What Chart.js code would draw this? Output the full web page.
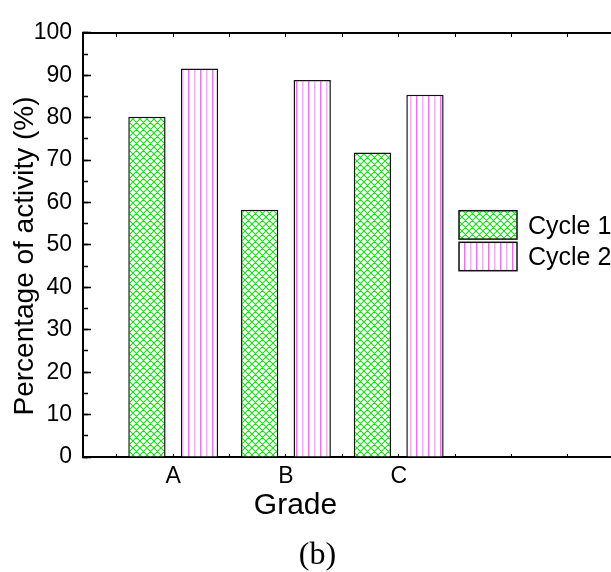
<!DOCTYPE html>
<html>
<head>
<meta charset="utf-8">
<title>Percentage of activity</title>
<script src="https://cdn.jsdelivr.net/npm/chart.js@4.4.1/dist/chart.umd.min.js"></script>
<style>
  html, body { margin: 0; padding: 0; background: #fff; overflow: hidden; }
  canvas { display: block; }
</style>
</head>
<body>
<canvas id="chart" width="660" height="572"></canvas>
<script>
var grades = ['A', 'B', 'C'];
var seriesNames = ['Cycle 1', 'Cycle 2'];
var cycle1 = [80.2, 58.3, 71.8];
var cycle2 = [91.6, 88.9, 85.4];
var yTickValues = [0, 10, 20, 30, 40, 50, 60, 70, 80, 90, 100];
var xTitle = 'Grade';
var yTitle = 'Percentage of activity (%)';
var caption = '(b)';

var gradePositions = grades.map(function(g, i) { return i + 1; });
var sans = '"Liberation Sans", Arial, sans-serif';
var serif = '"Liberation Serif", "Times New Roman", serif';
var xMin = 0.2;
var xMax = 5.14;

Chart.defaults.font.family = sans;
Chart.defaults.color = '#000';

// green diamond cross hatch
function makeCrossHatch() {
  var s = 7;
  var c = document.createElement('canvas');
  c.width = s; c.height = s;
  var g = c.getContext('2d');
  g.fillStyle = '#fff';
  g.fillRect(0, 0, s, s);
  g.strokeStyle = '#14e014';
  g.lineWidth = 1.1;
  g.beginPath();
  for (var k = -s; k <= s; k += s) {
    g.moveTo(k, 0); g.lineTo(k + s, s);
    g.moveTo(k + s, 0); g.lineTo(k, s);
  }
  g.stroke();
  return g.createPattern(c, 'repeat');
}

// pink vertical lines, two shades
function makeVertical() {
  var c = document.createElement('canvas');
  c.width = 12; c.height = 4;
  var g = c.getContext('2d');
  g.fillStyle = '#fff';
  g.fillRect(0, 0, 12, 4);
  g.fillStyle = '#ffa6ff';
  g.fillRect(2, 0, 1.5, 4);
  g.fillStyle = '#ff66ff';
  g.fillRect(8, 0, 1.5, 4);
  return g.createPattern(c, 'repeat');
}

var extraText = {
  id: 'extraText',
  afterDraw: function(chart) {
    var ctx = chart.ctx;
    ctx.save();
    // legend inside the plot
    chart.data.datasets.forEach(function(ds, i) {
      var top = 210.7 + i * 31.6;
      ctx.fillStyle = ds.backgroundColor;
      ctx.fillRect(459, top, 58, 28.4);
      ctx.strokeStyle = '#111';
      ctx.lineWidth = 1.5;
      ctx.strokeRect(459, top, 58, 28.4);
      ctx.fillStyle = '#000';
      ctx.font = '25px ' + sans;
      ctx.textAlign = 'left';
      ctx.textBaseline = 'alphabetic';
      ctx.fillText(ds.label, 528, top + 23);
    });
    // axis titles
    ctx.fillStyle = '#000';
    ctx.textAlign = 'center';
    ctx.textBaseline = 'alphabetic';
    ctx.font = '30px ' + sans;
    ctx.fillText(xTitle, 295.5, 514);
    ctx.font = '32px ' + serif;
    ctx.fillText(caption, 317.5, 564);
    ctx.translate(33, 256);
    ctx.rotate(-Math.PI / 2);
    ctx.font = '28px ' + sans;
    ctx.fillText(yTitle, 0, 0);
    ctx.restore();
  }
};

var ctx = document.getElementById('chart').getContext('2d');
var chart = new Chart(ctx, {
  type: 'bar',
  data: {
    labels: gradePositions,
    datasets: [
      { label: seriesNames[0], data: cycle1, backgroundColor: makeCrossHatch(), borderColor: '#111', borderWidth: 1.5, xAxisID: 'x', yAxisID: 'y' },
      { label: seriesNames[1], data: cycle2, backgroundColor: makeVertical(), borderColor: '#111', borderWidth: 1.5, xAxisID: 'x', yAxisID: 'y' }
    ]
  },
  options: {
    responsive: false,
    animation: false,
    events: [],
    layout: { padding: { top: 22, right: 20, left: 0, bottom: 0 } },
    datasets: { bar: { categoryPercentage: 0.932, barPercentage: 0.71 } },
    plugins: { legend: { display: false }, tooltip: { enabled: false } },
    scales: {
      x: {
        type: 'linear', position: 'bottom', min: xMin, max: xMax, offset: false,
        afterBuildTicks: function(scale) {
          scale.ticks = gradePositions.map(function(v) { return { value: v }; });
        },
        afterFit: function(scale) { scale.height = 115; },
        grid: { drawOnChartArea: false, offset: false, tickLength: -3, tickWidth: 1, tickColor: '#000' },
        border: { color: '#000', width: 2 },
        ticks: {
          padding: 9, autoSkip: false, maxRotation: 0, font: { size: 23 },
          callback: function(value) { return grades[Math.round(value) - 1]; }
        }
      },
      y: {
        type: 'linear', position: 'left', min: 0, max: 100,
        afterBuildTicks: function(scale) {
          scale.ticks = yTickValues.map(function(v) { return { value: v }; });
        },
        afterFit: function(scale) { scale.width = 83; },
        grid: { drawOnChartArea: false, tickLength: -8, tickWidth: 1.5, tickColor: '#000' },
        border: { color: '#000', width: 2 },
        ticks: { padding: 19, font: { size: 23 } }
      },
      yMinor: {
        type: 'linear', position: { x: xMin }, min: 0, max: 100,
        grid: { drawOnChartArea: false, tickLength: -5, tickWidth: 1.5, tickColor: '#000' },
        border: { display: false },
        ticks: { display: false, stepSize: 5 }
      },
      xMinor: {
        type: 'linear', position: { y: 0 }, min: xMin, max: xMax, offset: false,
        grid: { drawOnChartArea: false, offset: false, tickLength: -3, tickWidth: 1, tickColor: '#000' },
        border: { display: false },
        ticks: { display: false, stepSize: 0.5, includeBounds: false }
      },
      xTop: {
        type: 'linear', position: { y: 100 }, min: xMin, max: xMax, offset: false,
        grid: { drawOnChartArea: false, offset: false, tickLength: 3, tickWidth: 1, tickColor: '#000' },
        border: { color: '#000', width: 2 },
        ticks: { display: false, stepSize: 0.5, includeBounds: false }
      }
    }
  },
  plugins: [extraText]
});
</script>
</body>
</html>
